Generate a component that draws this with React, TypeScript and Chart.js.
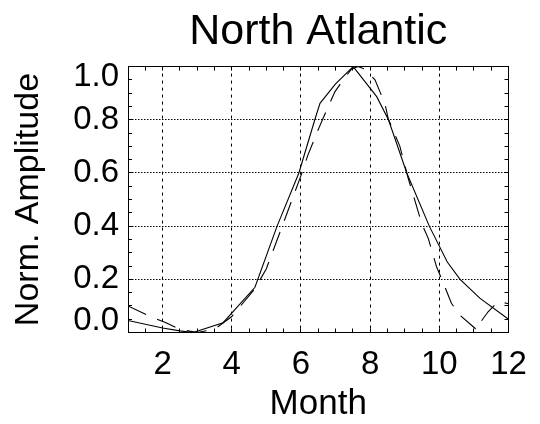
import React, { useEffect, useRef } from "react";
import { Chart, registerables } from "chart.js";

Chart.register(...registerables);

// ---- data ----
const solidMonths = [1, 2, 2.5, 2.88, 3.75, 4.67, 5.31, 5.94, 6.4, 6.55, 7.0, 7.51, 8.19, 8.53, 9.06, 9.71, 10.23, 10.6, 11.17, 12];
const solidValues = [0.045, 0.017, 0.006, 0.0, 0.037, 0.17, 0.4, 0.6, 0.8, 0.862, 0.935, 1.0, 0.887, 0.8, 0.6, 0.4, 0.265, 0.2, 0.129, 0.05];

const dashedMonths = [1, 1.71, 2.1, 2.5, 3.0, 3.5, 4.0, 4.67, 5.0, 5.46, 6.0, 6.2, 6.49, 6.64, 6.98, 7.22, 7.46, 7.65, 7.85, 8.14, 8.43, 8.52, 8.86, 9.1, 9.29, 9.49, 9.68, 9.92, 10.06, 10.35, 10.59, 11.03, 11.07, 11.17, 11.41, 11.7, 11.94, 12];
const dashedValues = [0.1, 0.056, 0.037, 0.012, 0.0, 0.012, 0.06, 0.165, 0.24, 0.4, 0.59, 0.667, 0.76, 0.806, 0.905, 0.95, 0.99, 1.0, 0.99, 0.95, 0.86, 0.805, 0.7, 0.58, 0.498, 0.41, 0.354, 0.247, 0.204, 0.11, 0.066, 0.016, 0.009, 0.035, 0.078, 0.116, 0.11, 0.108];

const xMin = 1;
const xMax = 12;
const xStep = 0.5;
const yMin = 0;
const yMax = 1;
const yStep = 0.05;

const titleText = "North Atlantic";
const xTitle = "Month";
const yTitle = "Norm. Amplitude";

const FAMILY = "'Liberation Sans', Arial, Helvetica, sans-serif";

export default function App() {
  const ref = useRef<HTMLCanvasElement | null>(null);

  useEffect(() => {
    if (!ref.current) return;
    const solid = solidMonths.map((m, i) => ({ x: m, y: solidValues[i] }));
    const dashed = dashedMonths.map((m, i) => ({ x: m, y: dashedValues[i] }));

    const isMajorX = (v: number) => Math.abs(v - Math.round(v)) < 1e-6 && Math.round(v) % 2 === 0;
    const yKey = (v: number) => Math.round(v * 100);
    const zeroPad = (s: any) => {
      s.paddingLeft = 0;
      s.paddingRight = 0;
      s.paddingTop = 0;
      s.paddingBottom = 0;
    };

    const chart = new Chart(ref.current, {
      type: "line",
      data: {
        datasets: [
          {
            data: solid,
            borderColor: "#000",
            borderWidth: 1.1,
            pointRadius: 0,
            tension: 0,
            fill: false,
          },
          {
            data: dashed,
            borderColor: "#000",
            borderWidth: 1.1,
            borderDash: [20, 12],
            pointRadius: 0,
            tension: 0,
            fill: false,
          },
        ],
      },
      options: {
        responsive: false,
        animation: false,
        events: [],
        layout: { padding: { left: 0, right: 31.5, top: 0, bottom: 0 } },
        plugins: {
          legend: { display: false },
          tooltip: { enabled: false },
          title: {
            display: true,
            text: titleText,
            color: "#000",
            fullSize: false,
            font: { family: FAMILY, size: 43, weight: "normal", lineHeight: 1.2 },
            padding: { top: 6, bottom: 9 },
          },
        },
        scales: {
          x: {
            type: "linear",
            position: "bottom",
            min: xMin,
            max: xMax,
            afterFit: (s: any) => {
              s.height = 91.5;
              zeroPad(s);
            },
            ticks: {
              stepSize: xStep,
              autoSkip: false,
              maxRotation: 0,
              minRotation: 0,
              padding: 17,
              color: "#000",
              font: { family: FAMILY, size: 33 },
              callback: (v: any) => {
                const n = Number(v);
                return isMajorX(n) && n >= 2 ? String(Math.round(n)) : "";
              },
            },
            grid: {
              color: (c: any) => {
                const v = c.tick ? c.tick.value : -1;
                return isMajorX(v) && v > xMin && v < xMax ? "#000" : "rgba(0,0,0,0)";
              },
              lineWidth: 1,
              tickColor: "#000",
              tickLength: -4,
              drawTicks: true,
            },
            border: { display: true, color: "#000", width: 1, dash: [3, 4] },
            title: {
              display: true,
              text: xTitle,
              color: "#000",
              font: { family: FAMILY, size: 35, lineHeight: 1.1 },
              padding: { top: 0, bottom: 0.5 },
            },
          },
          x2: {
            type: "linear",
            position: "top",
            min: xMin,
            max: xMax,
            afterFit: (s: any) => {
              s.height = 0;
              zeroPad(s);
            },
            ticks: { display: false, stepSize: xStep, autoSkip: false, maxRotation: 0, minRotation: 0 },
            grid: { drawOnChartArea: false, tickColor: "#000", tickLength: -4, drawTicks: true, color: "#000" },
            border: { display: true, color: "#000", width: 1 },
          },
          y: {
            type: "linear",
            position: "left",
            min: yMin,
            max: yMax,
            afterFit: (s: any) => {
              s.width = 128;
              zeroPad(s);
            },
            ticks: {
              stepSize: yStep,
              autoSkip: false,
              padding: 13,
              color: "#000",
              font: (c: any) => {
                const k = c.tick ? yKey(c.tick.value) : -1;
                return {
                  family: FAMILY,
                  size: 33,
                  lineHeight: k === 100 ? "20px" : k === 0 ? "23px" : 1.2,
                };
              },
              callback: (v: any) => {
                const k = yKey(Number(v));
                if (k % 20 !== 0) return "";
                const s = (k / 100).toFixed(1);
                if (k === 100) return ["", s];
                if (k === 0) return [s, ""];
                return s;
              },
            },
            grid: {
              color: (c: any) => {
                const k = c.tick ? yKey(c.tick.value) : -1;
                return k % 20 === 0 && k > 0 && k < 100 ? "#000" : "rgba(0,0,0,0)";
              },
              lineWidth: 1,
              tickColor: "#000",
              tickLength: -4,
              drawTicks: true,
            },
            border: { display: true, color: "#000", width: 1, dash: [1.5, 1.5] },
            title: {
              display: true,
              text: yTitle,
              color: "#000",
              font: { family: FAMILY, size: 34, lineHeight: 1.2 },
              padding: { top: 8.6, bottom: 0 },
            },
          },
          y2: {
            type: "linear",
            position: "right",
            min: yMin,
            max: yMax,
            afterFit: (s: any) => {
              s.width = 0;
              zeroPad(s);
            },
            ticks: { display: false, stepSize: yStep, autoSkip: false },
            grid: { drawOnChartArea: false, tickColor: "#000", tickLength: -4, drawTicks: true, color: "#000" },
            border: { display: true, color: "#000", width: 1 },
          },
        },
      } as any,
    });
    return () => chart.destroy();
  }, []);

  return (
    <div style={{ position: "absolute", left: 0, top: 0, width: 540, height: 424, background: "#fff" }}>
      <canvas ref={ref} width={540} height={424} style={{ width: 540, height: 424, display: "block" }} />
    </div>
  );
}
